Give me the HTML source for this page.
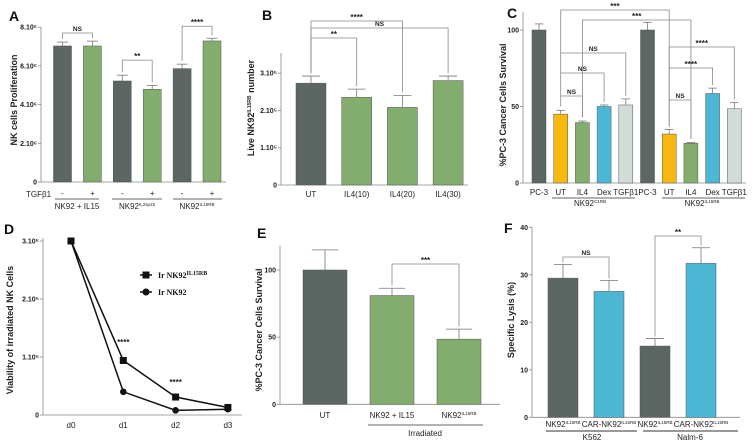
<!DOCTYPE html>
<html><head><meta charset="utf-8">
<style>
html,body{margin:0;padding:0;background:#fff;}
svg{display:block;font-family:"Liberation Sans",sans-serif;}
.t{font-size:7px;font-weight:bold;fill:#222;}
.xl{font-size:8px;fill:#222;}
.ttl{font-size:9px;font-weight:bold;fill:#222;}
.pl{font-size:14px;font-weight:bold;fill:#111;}
.sig{font-size:8px;font-weight:bold;fill:#222;}
.ns{font-size:6.5px;font-weight:bold;fill:#222;}
</style></head>
<body>
<svg id="fig" width="753" height="446" viewBox="0 0 753 446">
<text class="pl" x="9" y="21">A</text>
<text class="pl" x="262" y="20">B</text>
<text class="pl" x="507" y="18">C</text>
<text class="pl" x="4" y="234">D</text>
<text class="pl" x="257" y="238">E</text>
<text class="pl" x="504" y="233">F</text>

<text class="ttl" transform="translate(17,100) rotate(-90)" text-anchor="middle">NK cells Proliferation</text>
<text class="ttl" transform="translate(254,108) rotate(-90)" text-anchor="middle">Live NK92<tspan font-size="5" dy="-3">IL15RB</tspan><tspan dy="3"> number</tspan></text>
<text class="ttl" transform="translate(506,105) rotate(-90)" text-anchor="middle">%PC-3 Cancer Cells Survival</text>
<text class="ttl" transform="translate(13,330) rotate(-90)" text-anchor="middle">Viability of irradiated NK Cells</text>
<text class="ttl" transform="translate(262,330) rotate(-90)" text-anchor="middle">%PC-3 Cancer Cells Survival</text>
<text class="ttl" transform="translate(514,320) rotate(-90)" text-anchor="middle">Specific Lysis (%)</text>

<text class="xl" x="26" y="197">TGFβ1</text>
<line x1="55" y1="199" x2="99" y2="199" stroke="#333" stroke-width="0.8"/>
<line x1="112" y1="199" x2="162" y2="199" stroke="#333" stroke-width="0.8"/>
<line x1="173" y1="199" x2="222" y2="199" stroke="#333" stroke-width="0.8"/>
<text class="xl" x="77" y="209" text-anchor="middle">NK92 + IL15</text>
<text class="xl" x="137" y="209" text-anchor="middle">NK92<tspan font-size="4.5" dy="-3">IL2sp15</tspan></text>
<text class="xl" x="197" y="209" text-anchor="middle">NK92<tspan font-size="4.5" dy="-3">IL15RB</tspan></text>

<line x1="552" y1="198" x2="635" y2="198" stroke="#333" stroke-width="0.8"/>
<line x1="662" y1="198" x2="745" y2="198" stroke="#333" stroke-width="0.8"/>
<text class="xl" x="590" y="206" text-anchor="middle">NK92<tspan font-size="4.5" dy="-3">C1RB</tspan></text>
<text class="xl" x="702" y="206" text-anchor="middle">NK92<tspan font-size="4.5" dy="-3">IL15RB</tspan></text>

<line x1="368" y1="425" x2="483" y2="425" stroke="#333" stroke-width="0.8"/>
<text class="xl" x="425" y="436" text-anchor="middle">Irradiated</text>

<line x1="546" y1="431" x2="637" y2="431" stroke="#999" stroke-width="2"/>
<line x1="643" y1="431" x2="738" y2="431" stroke="#999" stroke-width="2"/>
<text class="xl" x="592" y="440" text-anchor="middle">K562</text>
<text class="xl" x="690" y="440" text-anchor="middle">Nalm-6</text>

<g>
<line x1="140" y1="275" x2="152" y2="275" stroke="#111" stroke-width="1.5"/>
<rect x="142.5" y="271.5" width="7" height="7" fill="#111"/>
<text x="158" y="278" font-family="Liberation Serif,serif" font-weight="bold" font-size="8" fill="#111">Ir NK92<tspan font-size="6" dy="-3">IL15RB</tspan></text>
<line x1="140" y1="292" x2="152" y2="292" stroke="#111" stroke-width="1.5"/>
<circle cx="146" cy="292" r="3.5" fill="#111"/>
<text x="158" y="295" font-family="Liberation Serif,serif" font-weight="bold" font-size="8" fill="#111">Ir NK92</text>
</g>
</svg>
<script>
const aLabels=['-','+','-','+','-','+'];
const aVals=[7.03,7.03,5.22,4.79,5.86,7.29];
const aErr=[0.2,0.25,0.3,0.2,0.23,0.14];
const aTicks=[0,2,4,6,8];
const aTickLabels=['0','2.10⁶','4.10⁶','6.10⁶','8.10⁶'];

const bCats=['UT','IL4(10)','IL4(20)','IL4(30)'];
const bVals=[2.73,2.35,2.08,2.80];
const bErr=[0.19,0.22,0.32,0.12];
const bTicks=[0,1,2,3];
const bTickLabels=['0','1.10⁵','2.10⁵','3.10⁵'];

const cCats=['PC-3','UT','IL4','Dex','TGFβ1','PC-3','UT','IL4','Dex','TGFβ1'];
const cVals=[100,45,39.5,50,51,100,32,26,58.5,48.5];
const cErr=[4,2.5,1,1,4,5,3,0.5,3.5,4];
const cTicks=[0,50,100];

const dCats=['d0','d1','d2','d3'];
const dSq=[3,0.94,0.31,0.13];
const dCi=[3,0.40,0.08,0.10];
const dTicks=[0,1,2,3];
const dTickLabels=['0','1.10⁵','2.10⁵','3.10⁵'];

const eCats=['UT','NK92 + IL15','NK92'];
const eVals=[100,81,48.5];
const eErr=[15,5.4,7.5];
const eTicks=[0,50,100];

const fCats=['NK92','CAR-NK92','NK92','CAR-NK92'];
const fVals=[29.3,26.5,15,32.4];
const fErr=[2.9,2.3,1.6,3.3];
const fTicks=[0,10,20,30,40];

const DK='#5c6663',GR='#82ad6c',YE='#f7b90f',BL='#4bb7d4',LT='#cfdcd8';
const svg=document.getElementById('fig');
const NS='http://www.w3.org/2000/svg';
function mk(tag,attrs,text){const e=document.createElementNS(NS,tag);for(const k in attrs)e.setAttribute(k,attrs[k]);if(text!==undefined)e.textContent=text;svg.appendChild(e);return e;}

const xA=i=>62.5+i*29.9, yA=v=>182-v*19.35;
const xB=i=>311+i*45.7, yB=v=>185-v*37.3;
const xC=i=>539+i*21.7, yC=v=>183-v*1.53;
const xD=i=>71+i*52.3, yD=v=>415-v*58;
const xE=i=>325+i*67, yE=v=>404.3-v*1.343;
const xF=i=>563+i*46, yF=v=>417.3-v*4.75;

function axes(id,x0,y0,yTop,x1,ticks,ys,labels){
  const ay=mk('line',{x1:x0,y1:y0,x2:x0,y2:yTop,stroke:'#888','stroke-width':0.8});
  
  
  const ax=mk('line',{x1:x0,y1:y0,x2:x1,y2:y0,stroke:'#888','stroke-width':0.8});
  
  
  ticks.forEach((t,i)=>{
    mk('line',{x1:x0-3,y1:ys(t),x2:x0,y2:ys(t),stroke:'#888','stroke-width':0.8});
    const tl=mk('text',{x:x0-4,y:ys(t)+2.5,'text-anchor':'end',class:'t'},labels?labels[i]:String(t));
    
    
  });
}
function bar(id,cx,w,yv,y0,ye,fill){
  const r=mk('rect',{x:cx-w/2,y:yv,width:w,height:y0-yv,fill:fill,stroke:'#555','stroke-width':0.5});
  
  
  mk('line',{x1:cx,y1:yv,x2:cx,y2:ye,stroke:'#777','stroke-width':0.8});
  mk('line',{x1:cx-w*0.3,y1:ye,x2:cx+w*0.3,y2:ye,stroke:'#777','stroke-width':0.8});
}
function bracket(id,x1,y1,x2,y2,y,label,cls){
  const p=mk('path',{d:`M${x1},${y1}V${y}H${x2}V${y2}`,fill:'none',stroke:'#888','stroke-width':0.8});
  
  
  const t=mk('text',{x:(x1+x2)/2,y:y-(cls==='sig'?1:2),'text-anchor':'middle',class:cls},label);
  
  
}
function xlab(id,x,y,txt,sup,size){
  const t=mk('text',{x:x,y:y,'text-anchor':'middle',class:'xl','font-size':size||8},txt);
  
  
  if(sup){const s=document.createElementNS(NS,'tspan');s.setAttribute('font-size',4.5);s.setAttribute('dy',-3);s.textContent=sup;t.appendChild(s);}
}

axes('a',41,yA(0),yA(8),226,aTicks,yA,aTickLabels);
aVals.forEach((v,i)=>{bar('a-'+i,xA(i),18,yA(v),yA(0),yA(v+aErr[i]),i%2?GR:DK);xlab('a-'+i,xA(i),196,aLabels[i]);});
bracket('a-ns',xA(0),yA(7.03+0.2)-3,xA(1),yA(7.03+0.25)-3,yA(7.7),'NS','ns');
bracket('a-2',xA(2),yA(5.52)-3,xA(3),yA(4.99)-3,yA(6.3),'**','sig');
bracket('a-4',xA(4),yA(6.09)-3,xA(5),yA(7.43)-3,yA(8.05),'****','sig');

axes('b',281,yB(0),53,468,bTicks,yB,bTickLabels);
bVals.forEach((v,i)=>{bar('b-'+i,xB(i),30,yB(v),yB(0),yB(v+bErr[i]),i?GR:DK);xlab('b-'+i,xB(i),197,bCats[i],null,8.5);});
bracket('b-2',xB(0),yB(2.92)-3,xB(1),yB(2.57)-3,38,'**','sig');
bracket('b-ns',xB(0),yB(2.92)-3,xB(3),yB(2.92)-3,28,'NS','ns');
bracket('b-4',xB(0),yB(2.92)-3,xB(2),yB(2.40)-3,21,'****','sig');

const cFill=[DK,YE,GR,BL,LT,DK,YE,GR,BL,LT];
axes('c',523,yC(0),yC(112),746,cTicks,yC);
cVals.forEach((v,i)=>{bar('c-'+i,xC(i),14,yC(v),yC(0),yC(v+cErr[i]),cFill[i]);xlab('c-'+i,xC(i),195,cCats[i],null,6.5);});
bracket('c-ns1',xC(1),yC(48)-3,xC(2),yC(41)-3,96,'NS','ns');
bracket('c-ns2',xC(1),96,xC(3),yC(51)-3,73,'NS','ns');
bracket('c-ns3',xC(1),73,xC(4),yC(55)-3,53,'NS','ns');
bracket('c-3a',xC(1),53,xC(6),yC(35)-3,10,'***','sig');
bracket('c-3b',xC(2),yC(41)-3,xC(7),yC(27)-3,20,'***','sig');
bracket('c-ns4',xC(6),yC(35)-3,xC(7),yC(27)-3,100,'NS','ns');
bracket('c-4a',xC(6),100,xC(8),yC(62)-3,68,'****','sig');
bracket('c-4b',xC(6),68,xC(9),yC(52.5)-3,47,'****','sig');

axes('d',43,yD(0),yD(3.05),242,dTicks,yD,dTickLabels);
dCats.forEach((c,i)=>xlab('d-'+i,xD(i),428,c,null,9));
const sqPts=dSq.map((v,i)=>xD(i)+','+yD(v)).join(' ');
const ciPts=dCi.map((v,i)=>xD(i)+','+yD(v)).join(' ');
const l1=mk('polyline',{points:sqPts,fill:'none',stroke:'#111','stroke-width':1.5});


const l2=mk('polyline',{points:ciPts,fill:'none',stroke:'#111','stroke-width':1.5});


dSq.forEach((v,i)=>{const m=mk('rect',{x:xD(i)-3.5,y:yD(v)-3.5,width:7,height:7,fill:'#111'});
  
  });
dCi.forEach((v,i)=>{const m=mk('circle',{cx:xD(i),cy:yD(v),r:3.3,fill:'#111'});
  
  });
const s1=mk('text',{x:xD(1),y:345,'text-anchor':'middle',class:'sig'},'****');


const s2=mk('text',{x:xD(2),y:385,'text-anchor':'middle',class:'sig'},'****');



axes('e',280,yE(0),yE(118),500,eTicks,yE);
eVals.forEach((v,i)=>{bar('e-'+i,xE(i),44,yE(v),yE(0),yE(v+eErr[i]),i?GR:DK);xlab('e-'+i,xE(i),418,eCats[i],i==2?'IL15RB':null,8.5);});
bracket('e-3',xE(1),yE(86.4)-3,xE(2),yE(56)-3,264,'***','sig');

const fFill=[DK,BL,DK,BL];
axes('f',532,yF(0),yF(40),740,fTicks,yF);
fVals.forEach((v,i)=>{bar('f-'+i,xF(i),30,yF(v),yF(0),yF(v+fErr[i]),fFill[i]);xlab('f-'+i,xF(i),427,fCats[i],'IL15RB',7);});
bracket('f-ns',xF(0),yF(32.2)-2,xF(1),yF(28.8)-2,257,'NS','ns');
bracket('f-2',xF(2),yF(16.6)-2,xF(3),yF(35.7)-2,236,'**','sig');
</script>
</body></html>
